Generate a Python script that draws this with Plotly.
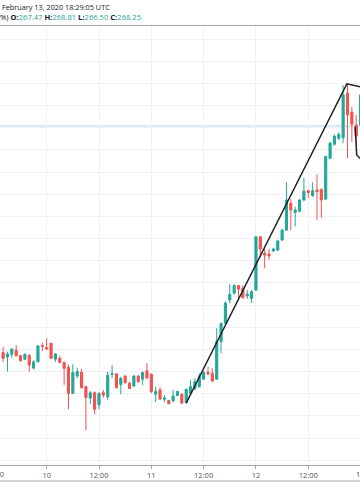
import plotly.graph_objects as go
import pandas as pd

# ---------------- data (hourly candles) ----------------
start_time = "2020-02-09 14:00"
n_candles = 83
times = pd.date_range(start_time, periods=n_candles, freq="h")

opens = [219.3, 218.3, 218.9, 219.8, 218.6, 217.8, 218.7, 215.8, 217.2, 220.9,
         220.4, 221.4, 217.8, 218.0, 217.1, 215.9, 210.1, 214.0, 214.85, 211.6,
         209.0, 210.25, 207.5, 210.25, 209.3, 214.35, 214.5, 212.1, 214.0, 212.4,
         211.75, 214.0, 213.3, 215.2, 214.4, 209.9, 210.85, 208.75, 208.5, 208.4,
         209.6, 209.9, 208.0, 210.1, 211.2, 211.6, 213.3, 214.85, 214.6, 213.3,
         221.75, 225.9, 231.15, 232.7, 234.4, 233.8, 232.05, 231.5, 233.4, 245.4,
         241.7, 241.5, 242.2, 242.4, 244.7, 246.9, 252.95, 250.9, 251.2, 253.7,
         255.8, 254.7, 255.95, 256.1, 253.9, 263.1, 266.3, 267.6, 267.75, 277.8,
         273.5, 270.6, 270.6]
highs = [220.6, 219.5, 220.2, 221.0, 218.75, 219.1, 218.9, 217.6, 221.0, 221.5,
         222.5, 221.5, 219.1, 218.6, 217.2, 216.65, 216.65, 215.9, 215.6, 211.8,
         210.6, 210.5, 210.3, 210.85, 215.0, 216.5, 214.6, 213.85, 214.2, 212.7,
         214.2, 214.2, 215.0, 216.9, 214.6, 211.6, 211.5, 209.7, 208.6, 210.85,
         210.7, 210.1, 211.2, 213.1, 213.5, 214.6, 215.1, 216.1, 215.75, 224.8,
         226.0, 230.8, 234.7, 234.7, 234.5, 234.5, 233.4, 233.4, 245.6, 245.6,
         242.8, 242.65, 242.95, 244.7, 247.2, 257.7, 253.9, 252.2, 253.9, 258.7,
         255.95, 257.7, 259.5, 256.3, 263.7, 266.85, 268.5, 269.0, 279.6, 279.9,
         274.7, 272.9, 279.0]
lows = [217.2, 215.0, 218.1, 218.4, 217.2, 217.6, 215.0, 215.5, 217.1, 219.6,
        219.9, 217.8, 217.2, 216.9, 212.0, 206.5, 209.95, 213.5, 211.2, 201.8,
        207.6, 205.4, 206.5, 209.1, 208.6, 213.5, 211.2, 209.9, 212.3, 211.1,
        211.5, 212.5, 212.0, 213.3, 210.1, 208.1, 208.7, 208.1, 207.6, 208.1,
        209.45, 207.7, 207.9, 209.7, 210.85, 211.4, 213.2, 214.2, 212.7, 213.2,
        219.1, 225.7, 230.4, 232.3, 231.5, 231.4, 231.4, 230.5, 233.2, 240.7,
        238.3, 240.2, 242.0, 242.2, 244.45, 246.7, 246.9, 247.7, 250.9, 253.5,
        254.1, 254.4, 249.2, 249.7, 253.7, 262.9, 265.95, 267.2, 266.5, 263.1,
        266.85, 263.85, 270.0]
closes = [218.0, 219.0, 220.1, 218.6, 217.5, 218.9, 216.5, 217.2, 220.8, 220.7,
          220.1, 218.0, 219.0, 217.1, 215.75, 210.1, 214.8, 215.0, 211.4, 209.1,
          210.25, 206.5, 210.1, 209.7, 214.2, 214.5, 211.4, 213.5, 212.5, 211.2,
          214.0, 212.7, 214.8, 213.6, 210.5, 210.5, 208.8, 209.1, 207.8, 209.5,
          210.5, 207.9, 211.0, 211.6, 212.7, 213.85, 214.8, 214.5, 212.9, 221.75,
          225.9, 230.5, 232.4, 234.4, 233.6, 231.7, 232.5, 233.0, 245.4, 242.65,
          241.3, 241.1, 242.65, 244.45, 246.9, 253.7, 251.45, 251.45, 253.7, 255.7,
          255.4, 255.8, 255.6, 253.7, 263.5, 266.5, 268.1, 268.5, 277.4, 272.9,
          270.8, 268.1, 277.4]

# drawing: trend lines (time, price), None separates segments
trend_times = ["2020-02-11 08:00", "2020-02-12 20:51", "2020-02-13 00:30", None,
               "2020-02-12 22:44", "2020-02-12 23:08", "2020-02-13 00:30"]
trend_prices = [207.9, 279.9, 279.1, None, 270.2, 263.85, 262.5]

price_line = 270.4

tick_times = ["2020-02-10 00:00", "2020-02-10 12:00", "2020-02-11 00:00",
              "2020-02-11 12:00", "2020-02-12 00:00", "2020-02-12 12:00"]
tick_labels = ["10", "12:00", "11", "12:00", "12", "12:00"]
edge_tick_times = ["2020-02-09 12:00", "2020-02-13 00:00"]
edge_tick_labels = ["12:00", "13"]

header_line1 = "February 13, 2020 18:29:05 UTC"
ohlc_names = ["O", "H", "L", "C"]
ohlc_values = ["267.47", "268.81", "266.50", "268.25"]

x_range = ["2020-02-09 13:17:30", "2020-02-12 23:52:00"]
y_range = [193.94, 292.94]

GREEN = "#26a69a"
RED = "#ef5350"
TEXT = "#131722"
AXIS = "#a3a6af"
GRID = "#eef1f7"
FONT = "Open Sans"

W, H = 360, 504
TOP, BOTTOM = 26, 39
plot_h = H - TOP - BOTTOM

fig = go.Figure()
fig.add_trace(go.Candlestick(
    x=times, open=opens, high=highs, low=lows, close=closes,
    increasing=dict(line=dict(color=GREEN, width=1), fillcolor=GREEN),
    decreasing=dict(line=dict(color=RED, width=1), fillcolor=RED),
    whiskerwidth=0, hoverinfo="skip", showlegend=False))

fig.add_trace(go.Scatter(
    x=trend_times, y=trend_prices, mode="lines",
    line=dict(color="#1e1f24", width=1.4), connectgaps=False,
    hoverinfo="skip", showlegend=False))

fig.add_shape(type="line", xref="paper", x0=0, x1=1, yref="y",
              y0=price_line, y1=price_line,
              line=dict(color="rgba(38,166,154,0.38)", width=1), layer="below")

# bottom border of time scale
fig.add_shape(type="line", xref="paper", x0=0, x1=1, yref="paper",
              y0=-(481 - 465) / plot_h, y1=-(481 - 465) / plot_h,
              line=dict(color=AXIS, width=1))

# clipped edge tick labels (placed via time -> paper fraction)
t0 = pd.Timestamp(x_range[0])
t1 = pd.Timestamp(x_range[1])
for t, lab in zip(edge_tick_times, edge_tick_labels):
    frac = (pd.Timestamp(t) - t0) / (t1 - t0)
    fig.add_annotation(x=frac, xref="paper", y=-9 / plot_h, yref="paper",
                       text=lab, showarrow=False, xanchor="center",
                       yanchor="middle",
                       font=dict(size=7.5, color="#50535e", family=FONT))

# header
fig.add_annotation(x=0, xref="paper", y=1 + (26 - 7) / plot_h, yref="paper",
                   text=header_line1, showarrow=False, xanchor="left",
                   yanchor="middle",
                   font=dict(size=7.3, color=TEXT, family=FONT))
parts = ["%)"]
for nm, v in zip(ohlc_names, ohlc_values):
    parts.append(f"<b>{nm}:</b><span style='color:{GREEN}'>{v}</span>")
fig.add_annotation(x=-2 / W, xref="paper", y=1 + (26 - 17) / plot_h, yref="paper",
                   text=" ".join(parts), showarrow=False, xanchor="left",
                   yanchor="middle",
                   font=dict(size=7.6, color=TEXT, family=FONT))

fig.update_layout(
    width=W, height=H,
    margin=dict(l=0, r=0, t=TOP, b=BOTTOM, pad=0),
    paper_bgcolor="white", plot_bgcolor="white",
    xaxis=dict(type="date", range=x_range, rangeslider=dict(visible=False),
               tickmode="array", tickvals=tick_times, ticktext=tick_labels,
               showgrid=True, gridcolor=GRID, gridwidth=1,
               showline=True, linecolor=AXIS, linewidth=1, mirror=True,
               ticks="outside", ticklen=3, tickcolor=AXIS,
               tickfont=dict(size=7.5, color="#50535e", family=FONT),
               zeroline=False, fixedrange=True, automargin=False),
    yaxis=dict(range=y_range, tickmode="linear", tick0=0, dtick=5,
               showgrid=True, gridcolor=GRID, gridwidth=1,
               showticklabels=False, ticks="", showline=False,
               zeroline=False, fixedrange=True, automargin=False),
    hovermode=False,
)

fig.write_html(
    "out.html",
    config={"displayModeBar": False},
    post_script="document.body.style.margin='0px';"
                "document.body.style.overflow='hidden';",
)
